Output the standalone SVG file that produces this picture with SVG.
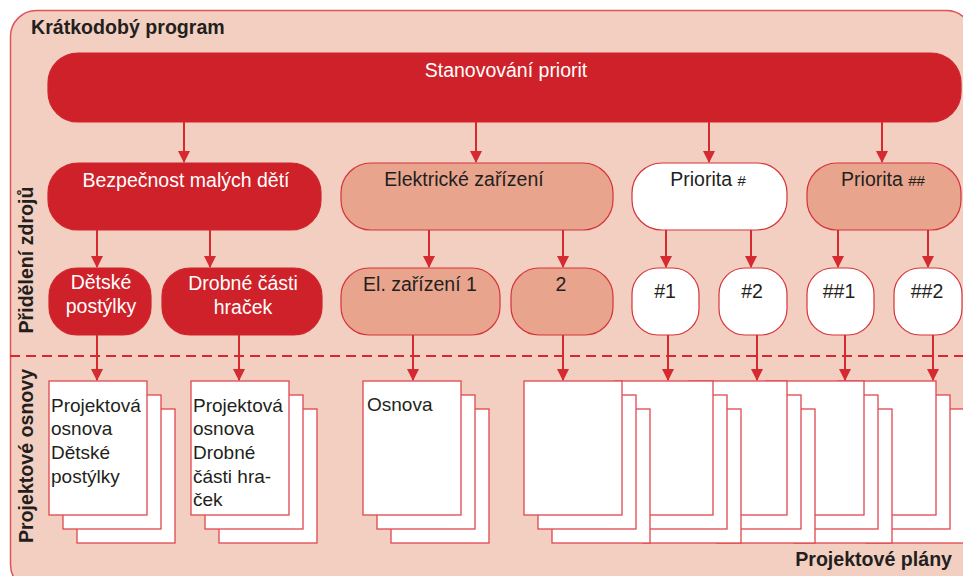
<svg xmlns="http://www.w3.org/2000/svg" xmlns:xlink="http://www.w3.org/1999/xlink" width="963" height="576" viewBox="0 0 963 576">
  <style>
    text { font-family: "Liberation Sans", Arial, sans-serif; }
    .title { font-size: 19.6px; font-weight: bold; fill: #231f20; }
    .lbl { font-size: 19.5px; fill: #231f20; text-anchor: middle; }
    .lbl-w { font-size: 19.5px; fill: #ffffff; text-anchor: middle; }
    .doc { font-size: 19px; fill: #231f20; }
    .dark { fill: #cf2129; stroke: #d0252d; stroke-width: 1.2; }
    .salmon { fill: #e8a48c; stroke: #d6333a; stroke-width: 1.2; }
    .white { fill: #ffffff; stroke: #d6333a; stroke-width: 1.2; }
    .page { fill: #ffffff; stroke: #e0474f; stroke-width: 1.3; }
    .conn { stroke: #d42a30; stroke-width: 2; fill: none; }
  </style>
  <defs>
    <marker id="arrow" viewBox="0 0 12 14" markerWidth="12" markerHeight="14" refX="11" refY="7" orient="auto" markerUnits="userSpaceOnUse">
      <path d="M0,1 L12,7 L0,13 Z" fill="#d42a30"/>
    </marker>
    <!-- stack of three sheets, front sheet at origin -->
    <g id="stack">
      <rect class="page" x="28" y="28" width="98" height="134"/>
      <rect class="page" x="14" y="14" width="98" height="134"/>
      <rect class="page" x="0" y="0" width="98" height="134"/>
    </g>
  </defs>

  <!-- frame -->
  <rect x="10.5" y="10.5" width="962" height="580" rx="26" fill="#f3cfc1" stroke="#e0535a" stroke-width="1.5"/>
  <text class="title" x="31" y="34">Krátkodobý program</text>
  <text class="title" x="952" y="566" text-anchor="end">Projektové plány</text>
  <text class="title" transform="translate(33,260) rotate(-90)" text-anchor="middle">Přidělení zdrojů</text>
  <text class="title" transform="translate(33,456) rotate(-90)" text-anchor="middle">Projektové osnovy</text>

  <!-- separator -->
  <line x1="10" y1="356" x2="963" y2="356" stroke="#d42a30" stroke-width="2" stroke-dasharray="10 6"/>

  <!-- top level -->
  <g id="stanovovani">
    <rect class="dark" x="48" y="53" width="913" height="69" rx="30"/>
    <text class="lbl-w" x="506" y="77" font-size="20">Stanovování priorit</text>
  </g>

  <!-- second level -->
  <g id="bezpecnost">
    <rect class="dark" x="48" y="163" width="273" height="67" rx="30"/>
    <text class="lbl-w" x="186" y="187">Bezpečnost malých dětí</text>
  </g>
  <g id="elektricke">
    <rect class="salmon" x="341" y="163" width="272" height="67" rx="30"/>
    <text class="lbl" x="464" y="186">Elektrické zařízení</text>
  </g>
  <g id="priorita1">
    <rect class="white" x="632" y="163" width="155" height="67" rx="30"/>
    <text class="lbl" x="708" y="186">Priorita <tspan font-size="15">#</tspan></text>
  </g>
  <g id="priorita2">
    <rect class="salmon" x="807" y="163" width="154" height="67" rx="30"/>
    <text class="lbl" x="883" y="186">Priorita <tspan font-size="15">##</tspan></text>
  </g>

  <!-- third level -->
  <g id="postylky">
    <rect class="dark" x="49" y="268" width="102" height="67" rx="28"/>
    <text class="lbl-w" x="101" y="289">Dětské</text>
    <text class="lbl-w" x="101" y="313">postýlky</text>
  </g>
  <g id="drobne">
    <rect class="dark" x="162" y="268" width="160" height="67" rx="28"/>
    <text class="lbl-w" x="243" y="290">Drobné části</text>
    <text class="lbl-w" x="243" y="314">hraček</text>
  </g>
  <g id="elzar1">
    <rect class="salmon" x="341" y="268" width="159" height="67" rx="28"/>
    <text class="lbl" x="420" y="291">El. zařízení 1</text>
  </g>
  <g id="elzar2">
    <rect class="salmon" x="511" y="268" width="102" height="67" rx="28"/>
    <text class="lbl" x="561" y="291">2</text>
  </g>
  <g id="p1">
    <rect class="white" x="632" y="268" width="67" height="67" rx="26"/>
    <text class="lbl" x="665" y="298">#1</text>
  </g>
  <g id="p2">
    <rect class="white" x="719" y="268" width="68" height="67" rx="26"/>
    <text class="lbl" x="752" y="298">#2</text>
  </g>
  <g id="pp1">
    <rect class="white" x="807" y="268" width="67" height="67" rx="26"/>
    <text class="lbl" x="839" y="298">##1</text>
  </g>
  <g id="pp2">
    <rect class="white" x="894" y="268" width="68" height="67" rx="26"/>
    <text class="lbl" x="927" y="298">##2</text>
  </g>

  <!-- document stacks (right-hand ones drawn first so left ones overlap) -->
  <g id="plan5"><use xlink:href="#stack" href="#stack" x="838" y="381"/></g>
  <g id="plan4"><use xlink:href="#stack" href="#stack" x="766" y="381"/></g>
  <g id="plan3"><use xlink:href="#stack" href="#stack" x="689" y="381"/></g>
  <g id="plan2"><use xlink:href="#stack" href="#stack" x="615" y="381"/></g>
  <g id="plan1"><use xlink:href="#stack" href="#stack" x="524" y="381"/></g>
  <g id="osnova">
    <use xlink:href="#stack" href="#stack" x="363" y="381"/>
    <text class="doc" x="367" y="411">Osnova</text>
  </g>
  <g id="osnova-drobne">
    <use xlink:href="#stack" href="#stack" x="191" y="381"/>
    <text class="doc" x="193" y="412">Projektová</text>
    <text class="doc" x="193" y="435">osnova</text>
    <text class="doc" x="193" y="459">Drobné</text>
    <text class="doc" x="193" y="483">části hra-</text>
    <text class="doc" x="193" y="506">ček</text>
  </g>
  <g id="osnova-postylky">
    <use xlink:href="#stack" href="#stack" x="49" y="381"/>
    <text class="doc" x="51" y="412">Projektová</text>
    <text class="doc" x="51" y="435">osnova</text>
    <text class="doc" x="51" y="459">Dětské</text>
    <text class="doc" x="51" y="483">postýlky</text>
  </g>

  <!-- connectors -->
  <g id="connectors" class="conn" marker-end="url(#arrow)">
    <line x1="184" y1="122" x2="184" y2="162"/>
    <line x1="476" y1="122" x2="476" y2="162"/>
    <line x1="709" y1="122" x2="709" y2="162"/>
    <line x1="882" y1="122" x2="882" y2="162"/>

    <line x1="97" y1="230" x2="97" y2="267"/>
    <line x1="210" y1="230" x2="210" y2="267"/>
    <line x1="429" y1="230" x2="429" y2="267"/>
    <line x1="563" y1="230" x2="563" y2="267"/>
    <line x1="666" y1="230" x2="666" y2="267"/>
    <line x1="751" y1="230" x2="751" y2="267"/>
    <line x1="838" y1="230" x2="838" y2="267"/>
    <line x1="928" y1="230" x2="928" y2="267"/>

    <line x1="97" y1="335" x2="97" y2="380"/>
    <line x1="239" y1="335" x2="239" y2="380"/>
    <line x1="413" y1="335" x2="413" y2="380"/>
    <line x1="563" y1="335" x2="563" y2="380"/>
    <line x1="668" y1="335" x2="668" y2="380"/>
    <line x1="757" y1="335" x2="757" y2="380"/>
    <line x1="845" y1="335" x2="845" y2="380"/>
    <line x1="933" y1="335" x2="933" y2="380"/>
  </g>
</svg>
